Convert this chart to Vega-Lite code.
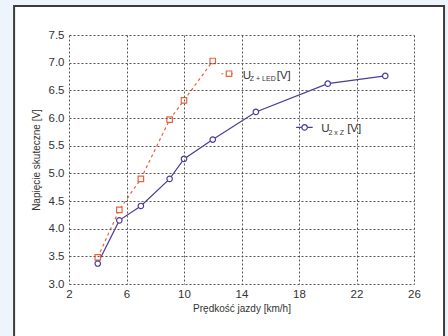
{
  "$schema": "https://vega.github.io/schema/vega-lite/v6.json",
  "width": 345,
  "height": 249,
  "autosize": {"type": "none"},
  "padding": {"left": 69, "top": 35, "right": 34, "bottom": 52},
  "background": "#edf4fc",
  "config": {
    "view": {"stroke": "#333333", "strokeWidth": 1},
    "axis": {
      "domain": false,
      "ticks": false,
      "labelFont": "Liberation Sans",
      "labelFontSize": 11.5,
      "labelColor": "#333333",
      "labelOverlap": false,
      "labelBound": false,
      "labelFlush": false,
      "titleFont": "Liberation Sans",
      "titleFontSize": 10,
      "titleFontWeight": "normal",
      "titleColor": "#333333",
      "gridColor": "#555555",
      "gridDash": [2, 2],
      "gridWidth": 1
    }
  },
  "datasets": {
    "zled": [
      {"x": 4, "y": 3.48},
      {"x": 5.5, "y": 4.34},
      {"x": 7, "y": 4.9},
      {"x": 9, "y": 5.97},
      {"x": 10, "y": 6.32},
      {"x": 12, "y": 7.03}
    ],
    "zz": [
      {"x": 4, "y": 3.37},
      {"x": 5.5, "y": 4.15},
      {"x": 7, "y": 4.41},
      {"x": 9, "y": 4.9},
      {"x": 10, "y": 5.26},
      {"x": 12, "y": 5.61},
      {"x": 15, "y": 6.11},
      {"x": 20, "y": 6.62},
      {"x": 24, "y": 6.76}
    ],
    "panel": [{"x": -1.82, "x2": 28.09, "y": 8.024, "y2": 1.9}],
    "legline": [
      {"s": "zled", "x": 12.6, "y": 6.8},
      {"s": "zled", "x": 13.4, "y": 6.8},
      {"s": "zz", "x": 17.8, "y": 5.83},
      {"s": "zz", "x": 18.95, "y": 5.83}
    ],
    "legpt": [
      {"s": "zled", "x": 13.13, "y": 6.8},
      {"s": "zz", "x": 18.39, "y": 5.83}
    ],
    "legtext": [
      {"role": "main", "x": 14.08, "y": 6.7, "t": "U"},
      {"role": "sub", "x": 14.58, "y": 6.66, "t": "Z + LED"},
      {"role": "main", "x": 16.45, "y": 6.7, "t": "[V]"},
      {"role": "main", "x": 19.55, "y": 5.74, "t": "U"},
      {"role": "sub", "x": 20.05, "y": 5.69, "t": "2 x Z"},
      {"role": "main", "x": 21.35, "y": 5.74, "t": "[V]"}
    ]
  },
  "encoding": {
    "x": {"field": "x", "type": "quantitative", "scale": {"domain": [2, 26], "nice": false, "zero": false},
      "axis": {
        "zindex": 1,
        "values": [2, 6, 10, 14, 18, 22, 26],
        "labelPadding": 4,
        "title": "Prędkość jazdy [km/h]",
        "titlePadding": 4
      }},
    "y": {"field": "y", "type": "quantitative", "scale": {"domain": [3, 7.5], "nice": false, "zero": false},
      "axis": {
        "zindex": 1,
        "values": [3, 3.5, 4, 4.5, 5, 5.5, 6, 6.5, 7, 7.5],
        "format": ".1f",
        "labelPadding": 5,
        "title": "Napięcie skuteczne [V]",
        "titlePadding": 7
      }}
  },
  "layer": [
    {
      "data": {"name": "panel"},
      "mark": {"type": "rect", "fill": "white", "stroke": "#3c3c3c", "strokeWidth": 2, "clip": false},
      "encoding": {
        "x2": {"field": "x2"},
        "y2": {"field": "y2"}
      }
    },
    {
      "data": {"name": "zled"},
      "mark": {"type": "line", "color": "#e8643c", "strokeWidth": 1.2, "strokeDash": [3, 3]}
    },
    {
      "data": {"name": "zz"},
      "mark": {"type": "line", "color": "#4b3c9c", "strokeWidth": 1.2}
    },
    {
      "data": {"name": "zled"},
      "mark": {"type": "point", "shape": "square", "filled": true, "fill": "white", "stroke": "#e8643c", "strokeWidth": 1.2, "size": 30, "opacity": 1}
    },
    {
      "data": {"name": "zz"},
      "mark": {"type": "point", "shape": "circle", "filled": true, "fill": "white", "stroke": "#4b3c9c", "strokeWidth": 1.2, "size": 30, "opacity": 1}
    },
    {
      "data": {"name": "legline"},
      "mark": {"type": "line", "strokeWidth": 1.2},
      "encoding": {
        "detail": {"field": "s"},
        "color": {"field": "s", "type": "nominal", "scale": {"domain": ["zled", "zz"], "range": ["#e8643c", "#4b3c9c"]}, "legend": null},
        "strokeDash": {"field": "s", "type": "nominal", "scale": {"domain": ["zled", "zz"], "range": [[2, 3], [1, 0]]}, "legend": null}
      }
    },
    {
      "data": {"name": "legpt"},
      "mark": {"type": "point", "filled": true, "fill": "white", "strokeWidth": 1.2, "size": 30, "opacity": 1},
      "encoding": {
        "stroke": {"field": "s", "type": "nominal", "scale": {"domain": ["zled", "zz"], "range": ["#e8643c", "#4b3c9c"]}, "legend": null},
        "shape": {"field": "s", "type": "nominal", "scale": {"domain": ["zled", "zz"], "range": ["square", "circle"]}, "legend": null}
      }
    },
    {
      "data": {"name": "legtext"},
      "mark": {"type": "text", "align": "left", "baseline": "alphabetic", "font": "Liberation Sans", "color": "#333333"},
      "encoding": {
        "text": {"field": "t"},
        "size": {"field": "role", "type": "nominal", "scale": {"domain": ["main", "sub"], "range": [11.5, 7]}, "legend": null}
      }
    }
  ]
}
